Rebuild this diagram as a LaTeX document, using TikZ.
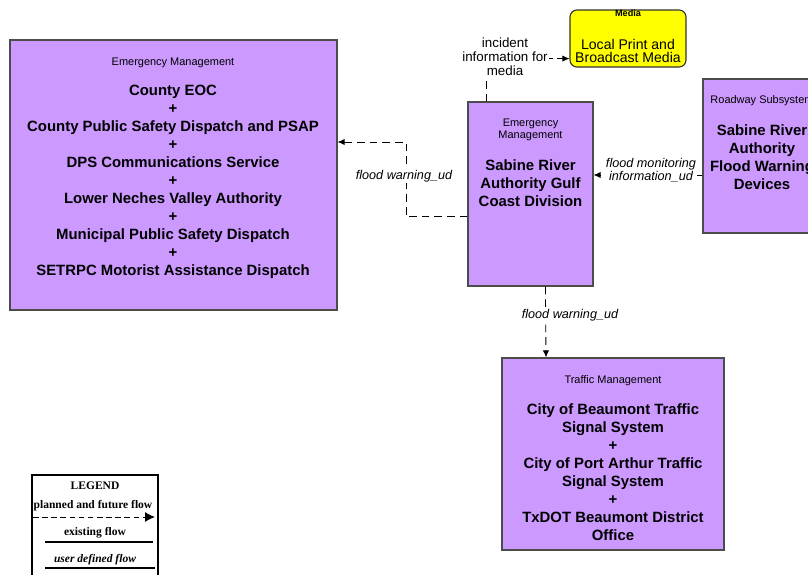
\documentclass[tikz,border=0pt]{standalone}
\usepackage{fontspec}
\setmainfont{Liberation Sans}
\newfontfamily\legendfont{Liberation Serif}
\usetikzlibrary{arrows.meta, positioning, calc}
\definecolor{boxpurple}{RGB}{204,153,255}
\definecolor{mediayellow}{RGB}{255,255,0}
\tikzset{
  sysbox/.style={draw=black!70, fill=boxpurple, line width=0.8pt, inner sep=0pt},
  boxtitle/.style={font=\fontsize{7.8}{8.5}\selectfont, align=center},
  elemtext/.style={font=\fontsize{10.6}{12.76}\selectfont\bfseries, align=center},
  flowlabel/.style={font=\fontsize{9}{9.2}\selectfont\itshape, fill=white, inner sep=1pt, align=center},
  flow/.style={dash pattern=on 5.5pt off 3.5pt, -{Latex[length=5pt,width=4.5pt]}, line width=0.6pt},
  legendtext/.style={font=\legendfont\fontsize{8.2}{9}\selectfont\bfseries}
}
\begin{document}
\begin{tikzpicture}[x=0.025cm, y=-0.025cm]
\useasboundingbox (0,0) rectangle (808,574);
\clip (0,0) rectangle (808,574);
\fill[white] (0,0) rectangle (808,574);

% boxes
\node (em)[sysbox, minimum width=8.175cm, minimum height=6.75cm] at (173.5,175){};
\node (media)[draw=black!80, fill=mediayellow, rounded corners=5pt, line width=0.8pt,
  minimum width=2.9cm, minimum height=1.425cm] at (628,38.5){};
\node (sra)[sysbox, minimum width=3.125cm, minimum height=4.6cm] at (530.5,194){};
\node (road)[sysbox, minimum width=2.95cm, minimum height=3.85cm] at (762,156){};
\node (traffic)[sysbox, minimum width=5.55cm, minimum height=4.8cm] at (613,454){};

% texts in the boxes
\node (emtitle)[boxtitle] at (173,63){Emergency Management};
\node (emtext)[elemtext] at (173,182){County EOC\\+\\County Public Safety Dispatch and PSAP\\+\\
  DPS Communications Service\\+\\Lower Neches Valley Authority\\+\\
  Municipal Public Safety Dispatch\\+\\SETRPC Motorist Assistance Dispatch};
\node (mediatitle)[font=\fontsize{6.5}{7}\selectfont\bfseries] at (628,13){Media};
\node (mediatext)[font=\fontsize{10}{9.9}\selectfont, align=center] at (628,51){Local Print and\\Broadcast Media};
\node (sratitle)[boxtitle] at (530.5,130){Emergency\\Management};
\node (sratext)[elemtext] at (530.5,183){Sabine River\\Authority Gulf\\Coast Division};
\node (roadtitle)[boxtitle] at (762,101){Roadway Subsystem};
\node (roadtext)[elemtext] at (762,157){Sabine River\\Authority\\Flood Warning\\Devices};
\node (traffictitle)[boxtitle] at (613,381){Traffic Management};
\node (traffictext)[elemtext] at (613,472){City of Beaumont Traffic\\Signal System\\+\\
  City of Port Arthur Traffic\\Signal System\\+\\TxDOT Beaumont District\\Office};

% flows
\draw[flow] (sra.south west) ++(0,-70) -| (406,142) -- (em.east |- 406,142);
\node (fw1)[flowlabel] at (404,176){flood warning\_ud};
\draw[flow] (sra.north west) ++(19,0) |- ($(media.south west)+(0,-9)$);
\node (incident)[font=\fontsize{9.5}{9.9}\selectfont, fill=white, inner sep=1pt, align=center]
  at (505,57){incident\\information for\\media};
\draw[flow] (road.west |- 0,175) -- (sra.east |- 0,175);
\node (fmon)[flowlabel] at (651,170){flood monitoring\\information\_ud};
\draw[flow] (sra.south west) ++(78,0) -- (traffic.north west -| 546,0);
\node (fw2)[flowlabel] at (570,315){flood warning\_ud};

% legend
\draw[line width=0.8pt] (32,600) -- (32,475) -- (158,475) -- (158,600);
\node (legtitle)[legendtext] at (95,486){LEGEND};
\node (legplanned)[legendtext] at (93,506){planned and future flow};
\draw[dash pattern=on 4pt off 2.5pt, line width=0.7pt, -{Latex[length=7pt,width=7pt]}] (33,517) -- (155,517);
\node (legexist)[legendtext] at (95,533){existing flow};
\draw[line width=0.8pt] (45,542) -- (153,542);
\node (leguser)[legendtext, font=\legendfont\fontsize{8.2}{9}\selectfont\bfseries\itshape] at (95,560){user defined flow};
\draw[line width=0.8pt] (45,568) -- (155,568);
\end{tikzpicture}
\end{document}
